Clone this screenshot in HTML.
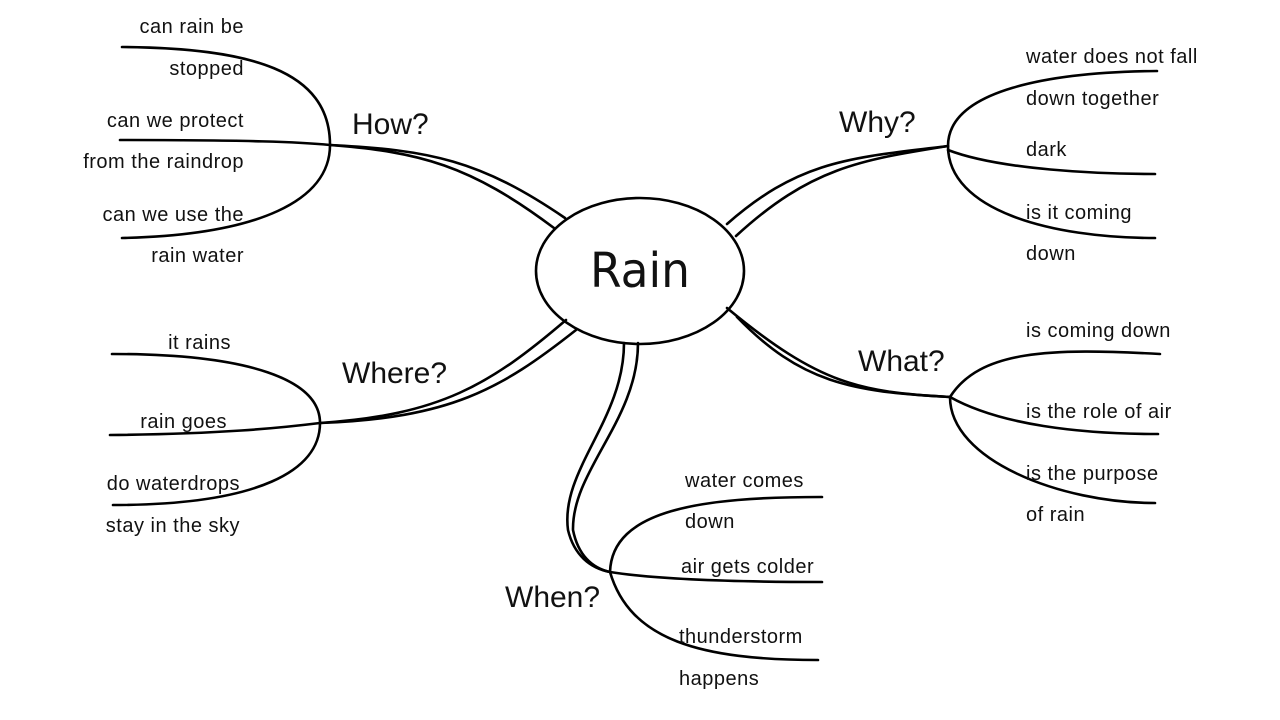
<!DOCTYPE html>
<html><head><meta charset="utf-8"><style>
html,body{margin:0;padding:0;background:#fff;}
svg{display:block}
text{font-family:"Liberation Sans",sans-serif;fill:#111;}
.s{font-size:20px;letter-spacing:0.5px}
.h{font-size:30px}
</style></head><body>
<svg width="1280" height="720" viewBox="0 0 1280 720" xmlns="http://www.w3.org/2000/svg">
<g fill="none" stroke="#000" stroke-width="2.6" stroke-linecap="round">
<ellipse cx="640" cy="271" rx="104" ry="73"/>
<!-- How -->
<path d="M330,145 C430,150 480,160 565,218"/>
<path d="M330,145 C420,152 470,165 554,228"/>
<path d="M122,47 C250,48 330,70 330,145"/>
<path d="M120,140 C250,140 300,142 330,145"/>
<path d="M122,238 C260,235 330,200 330,145"/>
<!-- Why -->
<path d="M948,146 C850,158 800,160 727,224"/>
<path d="M948,146 C860,160 810,168 736,236"/>
<path d="M1157,71 C1050,72 948,90 948,146"/>
<path d="M948,150 C1000,170 1100,174 1155,174"/>
<path d="M948,146 C948,210 1050,238 1155,238"/>
<!-- What -->
<path d="M950,397 C860,392 820,385 727,308"/>
<path d="M950,397 C850,392 800,382 737,317"/>
<path d="M1160,354 C1050,348 980,350 950,397"/>
<path d="M950,397 C1000,425 1080,434 1158,434"/>
<path d="M950,397 C950,460 1060,503 1155,503"/>
<!-- Where -->
<path d="M320,423 C440,415 490,385 566,320"/>
<path d="M320,423 C450,418 500,390 576,330"/>
<path d="M112,354 C250,354 320,380 320,423"/>
<path d="M110,435 C220,434 280,428 320,423"/>
<path d="M113,505 C260,505 320,470 320,423"/>
<!-- When -->
<path d="M624,343 C624,420 560,470 568,530 C574,555 590,568 610,572"/>
<path d="M638,343 C638,420 572,470 573,530 C578,555 592,568 610,572"/>
<path d="M822,497 C700,497 612,510 610,572"/>
<path d="M610,572 C660,580 740,582 822,582"/>
<path d="M610,572 C630,640 700,660 818,660"/>
</g>
<text x="640" y="287" text-anchor="middle" style="font-family:'DejaVu Sans',sans-serif;font-size:48px" textLength="100" lengthAdjust="spacingAndGlyphs">Rain</text>
<text class="h" x="352" y="134">How?</text>
<text class="h" x="839" y="132">Why?</text>
<text class="h" x="858" y="371">What?</text>
<text class="h" x="342" y="383">Where?</text>
<text class="h" x="505" y="607">When?</text>
<g class="s" text-anchor="end">
<text x="244" y="33">can rain be</text>
<text x="244" y="75">stopped</text>
<text x="244" y="127">can we protect</text>
<text x="244" y="168">from the raindrop</text>
<text x="244" y="221">can we use the</text>
<text x="244" y="262">rain water</text>
<text x="231" y="349">it rains</text>
<text x="227" y="428">rain goes</text>
<text x="240" y="490">do waterdrops</text>
<text x="240" y="532">stay in the sky</text>
</g>
<g class="s">
<text x="1026" y="63">water does not fall</text>
<text x="1026" y="105">down together</text>
<text x="1026" y="156">dark</text>
<text x="1026" y="219">is it coming</text>
<text x="1026" y="260">down</text>
<text x="1026" y="337">is coming down</text>
<text x="1026" y="418">is the role of air</text>
<text x="1026" y="480">is the purpose</text>
<text x="1026" y="521">of rain</text>
<text x="685" y="487">water comes</text>
<text x="685" y="528">down</text>
<text x="681" y="573">air gets colder</text>
<text x="679" y="643">thunderstorm</text>
<text x="679" y="685">happens</text>
</g>
</svg>
</body></html>
